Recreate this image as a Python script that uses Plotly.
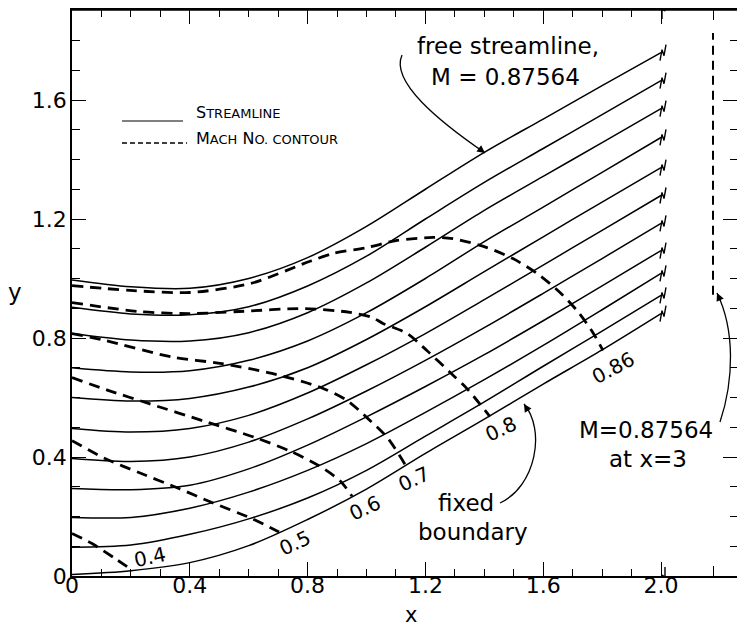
import plotly.graph_objects as go

# ---------------- data ----------------
x_grid = [0.0, 0.2, 0.4, 0.6, 0.8, 1.0, 1.2, 1.4, 1.6, 1.8, 2.0]

sl_100 = [0.995, 0.972, 0.967, 1.000, 1.070, 1.175, 1.300, 1.424, 1.536, 1.648, 1.759]  # free streamline
sl_090 = [0.903, 0.881, 0.878, 0.905, 0.975, 1.075, 1.200, 1.323, 1.437, 1.551, 1.665]
sl_080 = [0.815, 0.793, 0.790, 0.818, 0.885, 0.985, 1.105, 1.229, 1.343, 1.457, 1.571]
sl_070 = [0.700, 0.686, 0.690, 0.725, 0.790, 0.885, 1.000, 1.124, 1.240, 1.357, 1.474]
sl_060 = [0.600, 0.588, 0.597, 0.635, 0.700, 0.795, 0.905, 1.023, 1.140, 1.257, 1.373]
sl_050 = [0.496, 0.484, 0.496, 0.540, 0.615, 0.710, 0.815, 0.929, 1.045, 1.162, 1.279]
sl_040 = [0.395, 0.385, 0.400, 0.450, 0.528, 0.622, 0.725, 0.835, 0.950, 1.067, 1.185]
sl_030 = [0.294, 0.290, 0.305, 0.360, 0.440, 0.535, 0.637, 0.744, 0.858, 0.975, 1.094]
sl_020 = [0.197, 0.197, 0.228, 0.282, 0.355, 0.445, 0.550, 0.660, 0.775, 0.895, 1.017]
sl_010 = [0.097, 0.104, 0.140, 0.192, 0.262, 0.355, 0.470, 0.585, 0.705, 0.823, 0.943]
sl_000 = [0.005, 0.018, 0.045, 0.102, 0.190, 0.292, 0.412, 0.527, 0.645, 0.760, 0.882]  # fixed boundary
streamlines = [sl_100, sl_090, sl_080, sl_070, sl_060, sl_050,
               sl_040, sl_030, sl_020, sl_010, sl_000]

m040_x = [0.0, 0.068, 0.146, 0.204]
m040_y = [0.143, 0.109, 0.059, 0.020]
m050_x = [0.0, 0.112, 0.227, 0.363, 0.475, 0.611, 0.703]
m050_y = [0.455, 0.395, 0.348, 0.294, 0.247, 0.193, 0.148]
m060_x = [0.0, 0.12, 0.26, 0.45, 0.62, 0.74, 0.84, 0.91, 0.951]
m060_y = [0.667, 0.625, 0.580, 0.520, 0.466, 0.420, 0.370, 0.320, 0.268]
m070_x = [0.0, 0.112, 0.34, 0.509, 0.679, 0.849, 0.934, 1.005, 1.07, 1.131]
m070_y = [0.815, 0.792, 0.736, 0.714, 0.681, 0.632, 0.590, 0.529, 0.466, 0.375]
m080_x = [0.0, 0.227, 0.397, 0.567, 0.791, 0.944, 1.019, 1.056, 1.138, 1.205, 1.284, 1.341, 1.419]
m080_y = [0.919, 0.889, 0.882, 0.889, 0.899, 0.886, 0.869, 0.849, 0.815, 0.758, 0.684, 0.630, 0.536]
m086_x = [0.0, 0.197, 0.401, 0.605, 0.808, 0.886, 1.002, 1.104, 1.226, 1.294, 1.409,
          1.497, 1.579, 1.657, 1.715, 1.769, 1.803]
m086_y = [0.976, 0.960, 0.953, 0.983, 1.058, 1.084, 1.104, 1.128, 1.138, 1.134, 1.104,
          1.067, 1.017, 0.953, 0.892, 0.818, 0.758]
mach_contours = [(m040_x, m040_y), (m050_x, m050_y), (m060_x, m060_y),
                 (m070_x, m070_y), (m080_x, m080_y), (m086_x, m086_y)]

far_x = [3.0, 3.0]          # Mach contour M = 0.87564 at x = 3
far_y = [0.945, 1.825]

x_tickvals = [0, 0.4, 0.8, 1.2, 1.6, 2.0]
x_ticktext = ["0", "0.4", "0.8", "1.2", "1.6", "2.0"]
y_tickvals = [0, 0.4, 0.8, 1.2, 1.6]
y_ticktext = ["0", "0.4", "0.8", "1.2", "1.6"]

# ---------------- geometry (page pixels; the page adds an 8 px body margin) ----------------
OFF = 8
PL, PT, PR, PB = 72, 10, 737, 576       # plot area on the page
W = PR - OFF                            # 729
H = 630 - OFF                           # 622
PX_X = 294.5                            # pixels per x unit
PX_Y = 297.5                            # pixels per y unit
plot_w = PR - PL
brk_px = 667
x1_hi = 2.0 + (brk_px - 661) / PX_X
brk = (brk_px - PL) / plot_w
x2_lo = 3.0 - (713 - brk_px) / PX_X
x2_hi = x2_lo + (PR - brk_px) / PX_X
y_hi = (PB - PT) / PX_Y

FONT = "DejaVu Sans"
INK = "black"
fig = go.Figure()

for ys in streamlines:
    fig.add_trace(go.Scatter(x=x_grid, y=ys, mode="lines",
                             line=dict(color=INK, width=1.5, shape="spline", smoothing=0.9),
                             hoverinfo="skip", showlegend=False))

for mx, my in mach_contours:
    fig.add_trace(go.Scatter(x=mx, y=my, mode="lines",
                             line=dict(color=INK, width=2.8, dash="11px,7px",
                                       shape="spline", smoothing=0.8),
                             hoverinfo="skip", showlegend=False))

fig.add_trace(go.Scatter(x=far_x, y=far_y, mode="lines", xaxis="x2", yaxis="y2",
                         line=dict(color=INK, width=2.0, dash="9px,6px"),
                         hoverinfo="skip", showlegend=False))

# axis-break marks at the end of each streamline (offsets in pixels)
zig_px = [(-1, -8), (1, 3), (3, -3), (5, 8)]
for ys in streamlines:
    fig.add_trace(go.Scatter(x=[x_grid[-1] + p / PX_X for p, q in zig_px],
                             y=[ys[-1] + q / PX_Y for p, q in zig_px],
                             mode="lines", line=dict(color=INK, width=1.4),
                             hoverinfo="skip", showlegend=False))
frame_zig = [(1, -9), (1, 1), (4, -1), (4, 9)]
for ya in (0.0, y_hi):
    fig.add_trace(go.Scatter(x=[2.0 + p / PX_X for p, q in frame_zig],
                             y=[ya + q / PX_Y for p, q in frame_zig],
                             mode="lines", line=dict(color=INK, width=1.4),
                             cliponaxis=False, hoverinfo="skip", showlegend=False))

tickfont = dict(family=FONT, size=22, color=INK)
minor_x = dict(ticks="inside", tickmode="linear", tick0=0, dtick=0.1,
               ticklen=7, tickwidth=1.2, tickcolor=INK, showgrid=False)
fig.update_layout(
    width=W, height=H, autosize=False,
    margin=dict(l=PL - OFF, r=0, t=PT - OFF, b=H - (PB - OFF), pad=0),
    paper_bgcolor="white", plot_bgcolor="white",
    showlegend=False,
    xaxis=dict(domain=[0, brk], range=[0, x1_hi], anchor="y", automargin=False,
               showline=True, linecolor=INK, linewidth=1.5, mirror="ticks",
               showgrid=False, zeroline=False,
               tickmode="array", tickvals=x_tickvals, ticktext=x_ticktext,
               ticks="inside", ticklen=14, tickwidth=1.3, tickcolor=INK,
               tickfont=tickfont, ticklabelstandoff=-11, minor=minor_x),
    xaxis2=dict(domain=[brk, 1], range=[x2_lo, x2_hi], anchor="y", automargin=False,
                showline=True, linecolor=INK, linewidth=1.5, mirror="ticks",
                showgrid=False, zeroline=False,
                tickmode="array", tickvals=[3.0], ticktext=[""],
                ticks="inside", ticklen=10, tickwidth=1.3, tickcolor=INK),
    yaxis=dict(domain=[0, 1], range=[0, y_hi], anchor="x", automargin=False,
               showline=True, linecolor=INK, linewidth=1.5, mirror=False,
               showgrid=False, zeroline=False,
               tickmode="array", tickvals=y_tickvals, ticktext=y_ticktext,
               ticks="inside", ticklen=14, tickwidth=1.3, tickcolor=INK,
               tickfont=tickfont, ticklabelstandoff=-1,
               minor=dict(ticks="inside", tickmode="linear", tick0=0, dtick=0.1,
                          ticklen=8, tickwidth=1.2, tickcolor=INK, showgrid=False)),
    yaxis2=dict(range=[0, y_hi], anchor="x2", overlaying="y", side="right", automargin=False,
                showline=False, showgrid=False, zeroline=False,
                tickmode="array", tickvals=y_tickvals, showticklabels=False,
                ticks="inside", ticklen=14, tickwidth=1.3, tickcolor=INK,
                minor=dict(ticks="inside", tickmode="linear", tick0=0, dtick=0.1,
                           ticklen=7, tickwidth=1.2, tickcolor=INK, showgrid=False)),
)

# ---------------- leaders, legend, labels (positions given in page pixels) ----------------
def dx(px):
    return (px - PL) / PX_X

def dy(py):
    return (PB - py) / PX_Y

def dx2(px):
    return 3.0 + (px - 713) / PX_X

def bez(xf, pts, xr, yr):
    (a, b), (c, d), (e, f), (g, h) = pts
    return dict(type="path", xref=xr, yref=yr,
                path=f"M {xf(a)},{dy(b)} C {xf(c)},{dy(d)} {xf(e)},{dy(f)} {xf(g)},{dy(h)}",
                line=dict(color=INK, width=1.3))

shapes = [
    # top frame line
    dict(type="line", xref="paper", yref="paper", x0=0, x1=1, y0=1, y1=1,
         line=dict(color=INK, width=1.5)),
    bez(dx, [(402, 55), (390, 82), (440, 122), (485, 153)], "x", "y"),
    bez(dx, [(500, 503), (536, 486), (546, 430), (524, 404)], "x", "y"),
    bez(dx2, [(720, 422), (734, 380), (735, 330), (717, 293)], "x2", "y2"),
    dict(type="line", xref="x", yref="y", x0=dx(122), x1=dx(183),
         y0=dy(121), y1=dy(121), line=dict(color=INK, width=1.2)),
    dict(type="line", xref="x", yref="y", x0=dx(122), x1=dx(187),
         y0=dy(143), y1=dy(143), line=dict(color=INK, width=1.4, dash="5px,3px")),
]
fig.update_layout(shapes=shapes)

ann = []
def txt(px, py, s, size=22, angle=0, xanchor="center", family=FONT):
    ann.append(dict(x=(px - PL) / plot_w, y=(PB - py) / (PB - PT), xref="paper", yref="paper",
                    text=s, showarrow=False, textangle=angle, xanchor=xanchor, yanchor="middle",
                    font=dict(family=family, size=size, color=INK)))

txt(508, 46, "free streamline,", 23)
txt(505, 77, "M = 0.87564", 23)
txt(466, 503, "fixed", 23)
txt(473, 532, "boundary", 23)
txt(646, 430, "M=0.87564", 23)
txt(648, 459, "at x=3", 23)
txt(150, 557, "0.4", 20, -12)
txt(295, 543, "0.5", 20, -25)
txt(365, 508, "0.6", 20, -25)
txt(414, 479, "0.7", 20, -25)
txt(501, 429, "0.8", 20, -25)
txt(613, 368, "0.86", 20, -28)
txt(15, 292, "y", 23)
txt(411, 615, "x", 21)
sc = "font-size:13px"
txt(194, 113, f"S<span style='{sc}'>TREAMLINE</span>", 16, 0, "left")
txt(194, 138, f"M<span style='{sc}'>ACH</span> N<span style='{sc}'>O. CONTOUR</span>", 16, 0, "left")

# arrow heads at the ends of the curved leaders
for xr, yr, xv, yv, axv, ayv in [("x", "y", dx(485), dy(153), -8, -6),
                                 ("x", "y", dx(524), dy(404), 5, 8),
                                 ("x2", "y2", dx2(717), dy(293), 4, 9)]:
    ann.append(dict(x=xv, y=yv, xref=xr, yref=yr, ax=axv, ay=ayv, text="",
                    showarrow=True, arrowhead=2, arrowsize=1.2, arrowwidth=1.3, arrowcolor=INK))
fig.update_layout(annotations=ann)

fig.write_html("out.html")
